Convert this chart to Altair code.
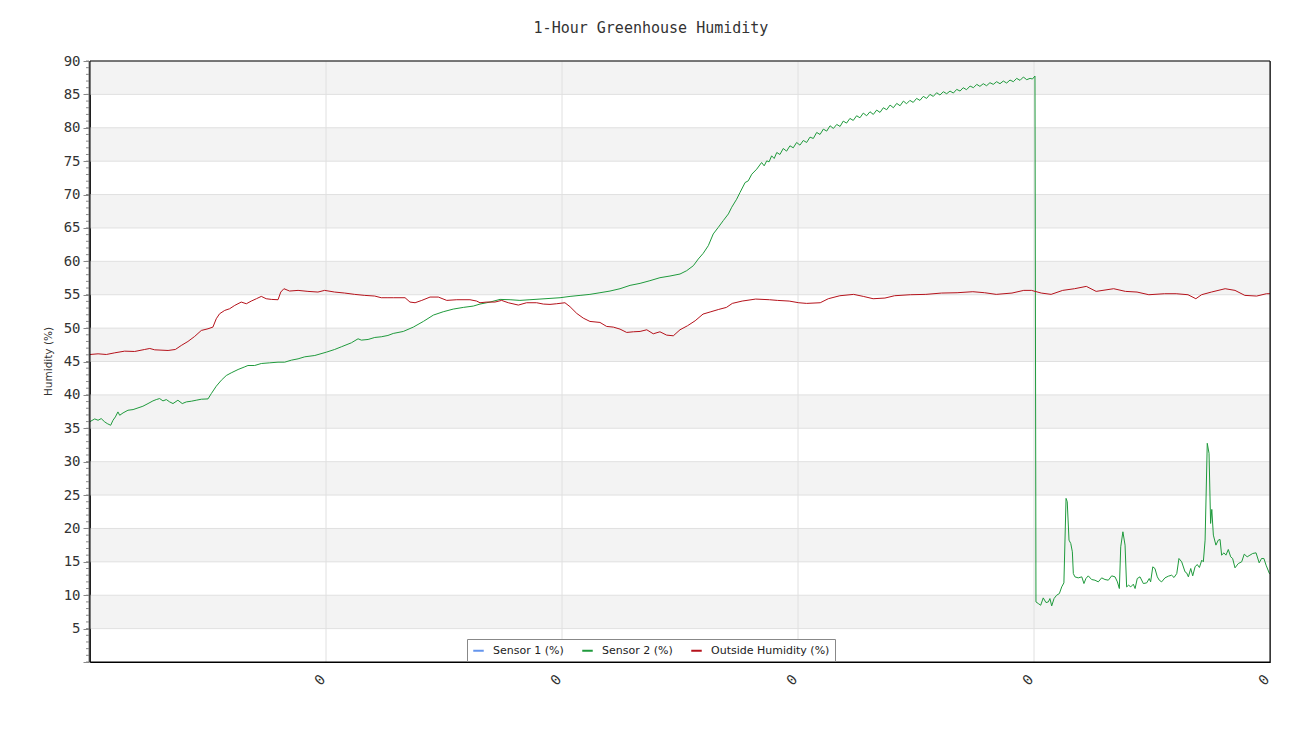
import altair as alt
import pandas as pd

# ---- data (minutes since start, humidity %) ----
s2_t = [0.0, 0.24, 0.41, 0.57, 0.75, 0.88, 1.05, 1.17, 1.29, 1.42, 1.51, 1.68, 1.93, 2.19, 2.44, 2.69, 2.95,
        3.20, 3.37, 3.54, 3.71, 3.88, 4.05, 4.22, 4.47, 4.69, 4.90, 5.15, 5.40, 5.66, 6.00, 6.17, 6.42, 6.68,
        6.93, 7.18, 7.53, 7.87, 8.03, 8.37, 8.71, 9.14, 9.56, 9.90, 10.24, 10.58, 10.92, 11.43, 12.02, 12.44,
        12.78, 13.29, 13.63, 13.80, 14.14, 14.48, 14.81, 15.15, 15.42, 15.93, 16.44, 16.95, 17.46, 17.96,
        18.47, 18.98, 19.49, 19.83, 20.34, 20.85, 21.36, 21.86, 22.37, 22.88, 23.39, 23.90, 24.41, 24.92,
        25.42, 25.93, 26.44, 26.95, 27.46, 27.97, 28.47, 28.98, 29.49, 30.00, 30.34, 30.68, 30.93, 31.18,
        31.44, 31.69, 31.95, 32.20, 32.46, 32.63, 32.88, 33.05, 33.31, 33.47, 33.65, 33.90, 34.15, 34.41,
        34.66, 34.92, 35.25, 35.59, 35.93, 36.27, 36.61, 36.95, 37.29, 37.63, 37.97, 38.30, 38.64, 38.98,
        39.32, 39.66, 40.00, 40.34, 40.68, 41.02, 41.36, 41.69, 42.03, 42.37, 42.71, 43.05, 43.39, 43.73,
        44.07, 44.40, 44.75, 45.09, 45.42, 45.76, 46.10, 46.44, 46.78, 47.12, 47.46, 47.80, 48.05, 48.10,
        48.22, 48.34, 48.47, 48.61, 48.73, 48.81, 48.90, 49.02, 49.15, 49.29, 49.41, 49.52, 49.63, 49.69,
        49.78, 49.87, 49.95, 50.00, 50.08, 50.25, 50.43, 50.54, 50.64, 50.76, 50.93, 51.10, 51.27, 51.44,
        51.61, 51.78, 51.95, 52.12, 52.24, 52.34, 52.41, 52.52, 52.63, 52.71, 52.81, 52.92, 53.05, 53.14,
        53.25, 53.39, 53.56, 53.73, 53.86, 53.93, 54.04, 54.15, 54.27, 54.37, 54.49, 54.66, 54.83, 55.00,
        55.12, 55.26, 55.37, 55.51, 55.68, 55.76, 55.85, 55.97, 56.07, 56.19, 56.30, 56.41, 56.53, 56.61,
        56.70, 56.81, 56.90, 56.98, 57.04, 57.12, 57.25, 57.37, 57.46, 57.54, 57.66, 57.76, 57.88, 58.00,
        58.10, 58.22, 58.39, 58.56, 58.69, 58.84, 58.98, 59.12, 59.29, 59.45, 59.57, 59.69, 59.80, 59.97,
        60.0]
s2_v = [36.0, 36.4, 36.2, 36.45, 35.95, 35.7, 35.45, 36.2, 36.7, 37.45, 36.95, 37.3, 37.7, 37.8, 38.05, 38.3,
        38.7, 39.1, 39.3, 39.45, 39.1, 39.3, 38.95, 38.7, 39.2, 38.7, 38.95, 39.05, 39.2, 39.35, 39.4, 40.2,
        41.3, 42.2, 42.9, 43.3, 43.8, 44.2, 44.4, 44.4, 44.7, 44.8, 44.9, 44.9, 45.2, 45.4, 45.7, 45.9, 46.4,
        46.8, 47.2, 47.8, 48.4, 48.2, 48.3, 48.6, 48.7, 48.9, 49.2, 49.5, 50.15, 51.0, 51.95, 52.45, 52.85,
        53.1, 53.3, 53.6, 53.9, 54.3, 54.25, 54.15, 54.25, 54.35, 54.45, 54.55, 54.75, 54.9, 55.05, 55.3,
        55.55, 55.9, 56.4, 56.7, 57.1, 57.55, 57.8, 58.1, 58.6, 59.35, 60.35, 61.2, 62.35, 64.1, 65.1, 66.1,
        67.1, 68.1, 69.3, 70.3, 71.8, 72.05, 73.05, 73.8, 74.8, 75.05, 75.8, 76.3, 76.9, 77.3, 77.8, 78.1,
        78.6, 79.3, 79.8, 80.3, 80.5, 81.0, 81.4, 81.8, 82.2, 82.4, 82.65, 83.0, 83.4, 83.65, 84.0, 84.1,
        84.4, 84.7, 85.0, 85.25, 85.4, 85.5, 85.75, 86.0, 86.25, 86.5, 86.6, 86.75, 86.9, 87.0, 87.15, 87.4,
        87.6, 87.4, 87.75, 9.0, 8.75, 8.5, 9.6, 8.9, 9.0, 9.5, 8.4, 9.5, 10.0, 10.25, 11.25, 11.85, 24.5,
        24.0, 18.25, 17.75, 16.5, 13.25, 12.75, 12.6, 12.75, 11.75, 12.5, 12.9, 12.35, 12.25, 12.0, 12.6,
        12.35, 12.25, 12.9, 12.75, 12.0, 11.0, 17.25, 19.5, 17.5, 11.25, 11.5, 11.25, 11.65, 11.0, 12.5,
        12.75, 11.75, 11.85, 12.5, 12.0, 14.25, 14.0, 12.75, 12.25, 12.0, 12.6, 12.85, 13.0, 12.65, 13.25,
        15.5, 15.0, 13.5, 13.35, 12.75, 14.0, 12.9, 14.25, 14.6, 14.15, 15.25, 15.0, 18.25, 32.75, 31.25,
        20.75, 22.85, 19.0, 17.5, 18.25, 18.35, 16.0, 16.35, 16.0, 16.85, 15.75, 15.5, 14.1, 14.75, 15.0,
        16.15, 15.75, 16.0, 16.25, 16.35, 14.85, 15.5, 15.5, 14.5, 13.25, 13.2]

# small dips of the sawtooth ripple seen on Sensor 2 while it climbs
s2_dip_t = [34.28, 34.53, 34.79, 35.08, 35.42, 35.76, 36.10, 36.44, 36.78, 37.12, 37.46, 37.80, 38.14, 38.47,
            38.81, 39.15, 39.49, 39.83, 40.17, 40.51, 40.85, 41.19, 41.52, 41.86, 42.20, 42.54, 42.88, 43.22,
            43.56, 43.90, 44.24, 44.57, 44.92, 45.25, 45.59, 45.93, 46.27, 46.61, 46.95, 47.29, 47.63, 47.92]
s2_dip_v = [74.3, 74.9, 75.4, 76.0, 76.5, 77.0, 77.4, 77.8, 78.4, 79.0, 79.5, 79.9, 80.2, 80.7,
            81.1, 81.5, 81.8, 82.0, 82.3, 82.7, 83.0, 83.3, 83.6, 83.8, 84.1, 84.4, 84.7, 84.9,
            85.1, 85.2, 85.5, 85.7, 86.0, 86.2, 86.3, 86.5, 86.6, 86.7, 86.9, 87.1, 87.2, 87.3]

out_t = [0.0, 0.41, 0.83, 1.26, 1.76, 2.27, 2.78, 3.04, 3.29, 3.97, 4.34, 4.64, 4.98, 5.32, 5.66, 6.00, 6.25,
         6.42, 6.59, 6.85, 7.10, 7.36, 7.69, 7.95, 8.20, 8.46, 8.71, 8.96, 9.22, 9.56, 9.70, 9.86, 10.15,
         10.58, 11.08, 11.59, 11.93, 12.44, 12.95, 13.46, 13.97, 14.48, 14.81, 15.15, 15.42, 16.02, 16.27,
         16.53, 16.87, 17.29, 17.71, 18.14, 18.65, 19.32, 19.66, 19.83, 20.17, 20.59, 20.93, 21.27, 21.78,
         22.20, 22.71, 23.05, 23.39, 23.73, 24.15, 24.41, 24.75, 25.08, 25.42, 25.93, 26.27, 26.61, 26.95,
         27.29, 27.63, 27.97, 28.31, 28.64, 28.98, 29.32, 29.66, 30.00, 30.38, 30.77, 31.17, 31.57, 31.97,
         32.36, 32.66, 33.16, 33.85, 34.55, 34.95, 35.55, 36.04, 36.44, 37.13, 37.54, 38.13, 38.83, 39.32,
         39.82, 40.42, 40.91, 41.71, 42.50, 43.30, 44.09, 44.89, 45.49, 46.08, 46.88, 47.48, 47.87, 48.37,
         48.87, 49.46, 50.06, 50.66, 51.16, 52.05, 52.65, 53.24, 53.84, 54.64, 55.23, 55.83, 56.23, 56.52,
         57.02, 57.72, 58.22, 58.72, 59.32, 59.82, 60.0]
out_v = [46.05, 46.15, 46.05, 46.3, 46.55, 46.5, 46.8, 46.95, 46.75, 46.65, 46.8, 47.4, 48.0, 48.75, 49.65,
         49.9, 50.15, 51.4, 52.15, 52.65, 52.9, 53.4, 53.9, 53.65, 54.05, 54.4, 54.75, 54.4, 54.3, 54.25,
         55.4, 55.9, 55.55, 55.65, 55.5, 55.4, 55.65, 55.4, 55.25, 55.05, 54.9, 54.8, 54.55, 54.55, 54.55,
         54.55, 53.9, 53.8, 54.15, 54.65, 54.65, 54.15, 54.25, 54.25, 54.05, 53.8, 53.9, 53.9, 54.15, 53.8,
         53.45, 53.8, 53.8, 53.6, 53.55, 53.65, 53.8, 53.2, 52.2, 51.5, 51.0, 50.85, 50.25, 50.15, 49.85,
         49.35, 49.45, 49.5, 49.75, 49.15, 49.45, 48.95, 48.85, 49.75, 50.35, 51.1, 52.1, 52.45, 52.8, 53.1,
         53.7, 54.05, 54.35, 54.25, 54.15, 54.05, 53.8, 53.7, 53.8, 54.4, 54.85, 55.05, 54.75, 54.4, 54.5,
         54.85, 55.0, 55.05, 55.25, 55.3, 55.45, 55.3, 55.05, 55.25, 55.65, 55.65, 55.25, 55.05, 55.65, 55.9,
         56.25, 55.5, 55.9, 55.5, 55.4, 55.0, 55.15, 55.15, 55.0, 54.4, 55.0, 55.4, 55.9, 55.65, 54.9, 54.8,
         55.15, 55.15]

series_names = ["Sensor 1 (%)", "Sensor 2 (%)", "Outside Humidity (%)"]
series_colors = ["#6495ed", "#1f9a3c", "#b5121b"]
band_lo = [5, 15, 25, 35, 45, 55, 65, 75, 85]
y_ticks = list(range(0, 95, 5))
y_minor = list(range(0, 91))
x_ticks = [12, 24, 36, 48, 60]

s2_df = pd.concat([
    pd.DataFrame({"t": s2_t, "v": s2_v}),
    pd.DataFrame({"t": s2_dip_t, "v": s2_dip_v}),
]).sort_values("t", kind="stable")
s2_df["series"] = series_names[1]

lines_df = pd.concat([
    s2_df,
    pd.DataFrame({"t": out_t, "v": out_v, "series": series_names[2]}),
], ignore_index=True)
lines_df["order"] = range(len(lines_df))

xs = alt.Scale(domain=[0, 60], nice=False, zero=False)
ys = alt.Scale(domain=[0, 90], nice=False)

FONT_MONO = "DejaVu Sans Mono"
Y_TITLE = "Humidity (%)"

x_axis = alt.Axis(values=x_ticks, labelExpr="'0'", labelAngle=-45, grid=False, ticks=False,
                  domain=False, labelFont=FONT_MONO, labelFontSize=14, labelColor="#333333",
                  labelPadding=15, labelOffset=-3, labelAlign="right", labelBaseline="middle")
y_axis = alt.Axis(values=y_ticks, grid=False, tickSize=6, tickColor="#888888", tickWidth=1,
                  domainColor="#808080", domainWidth=2, offset=1,
                  labelExpr="datum.value == 0 ? '' : datum.label",
                  labelFont=FONT_MONO, labelFontSize=14, labelColor="#333333", labelPadding=3,
                  titleFont="DejaVu Sans", titleFontSize=10.5, titleFontWeight="normal",
                  titleColor="#333333", titleX=-36, titleY=300)


def X(field):
    return alt.X(field, scale=xs, title=None, axis=x_axis)


def Y(field):
    return alt.Y(field, scale=ys, title=Y_TITLE, axis=y_axis)


bands = alt.Chart(pd.DataFrame({"lo": band_lo, "hi": [b + 5 for b in band_lo]})).mark_rect(
    color="#f3f3f3").encode(
    y=Y("lo:Q"), y2="hi:Q",
    x=alt.value(0), x2=alt.value("width"))

hgrid = alt.Chart(pd.DataFrame({"y": y_ticks[1:]})).mark_rule(color="#e0e0e0", strokeWidth=1).encode(
    y=Y("y:Q"))

vgrid = alt.Chart(pd.DataFrame({"x": x_ticks})).mark_rule(color="#e0e0e0", strokeWidth=1).encode(
    x=X("x:Q"))

minor_ticks = alt.Chart(pd.DataFrame({"y": y_minor})).mark_rule(color="#888888", strokeWidth=1).encode(
    y=Y("y:Q"), x=alt.value(-4), x2=alt.value(-1))

lines = alt.Chart(lines_df).mark_line(strokeWidth=1, interpolate="linear").encode(
    x=X("t:Q"),
    y=Y("v:Q"),
    color=alt.Color("series:N", scale=alt.Scale(domain=series_names, range=series_colors),
                    legend=alt.Legend(orient="none", legendX=377, legendY=578, direction="horizontal",
                                      title=None, symbolType="stroke", symbolStrokeWidth=2,
                                      symbolSize=110, fillColor="white", strokeColor="#888888",
                                      padding=5, labelFont="DejaVu Sans", labelFontSize=11,
                                      labelColor="#222222", columnPadding=14, labelOffset=8)),
    order="order:Q",
    detail="series:N",
)

frame = alt.Chart(pd.DataFrame({"k": [0]})).mark_rect(fill=None, stroke="#000000", strokeWidth=1).encode(
    x=alt.value(0), x2=alt.value("width"), y=alt.value(0), y2=alt.value("height"))

chart = alt.layer(bands, hgrid, vgrid, lines, minor_ticks, frame).properties(
    width=1180, height=601, autosize="none",
    padding={"left": 82, "top": 53, "right": 22, "bottom": 70},
    title=alt.TitleParams("1-Hour Greenhouse Humidity", font=FONT_MONO, fontSize=15, fontWeight="normal",
                          color="#333333", offset=18, dx=-29),
).configure_view(stroke="#000000", strokeWidth=1)

chart.save("out.html", embed_options={"renderer": "svg", "actions": False})
